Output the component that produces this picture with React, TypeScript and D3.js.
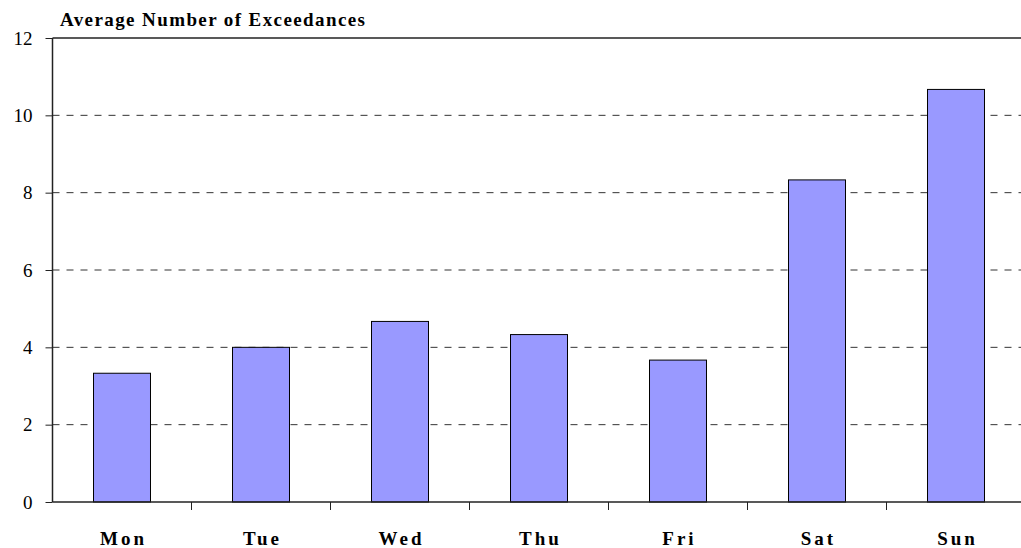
import React, { useEffect, useRef } from "react";
import * as d3 from "d3";

const days = ["Mon", "Tue", "Wed", "Thu", "Fri", "Sat", "Sun"];
const exceedances = [3.33, 4.0, 4.67, 4.33, 3.67, 8.33, 10.67];
const yTicks = [0, 2, 4, 6, 8, 10, 12];

export default function App() {
  const ref = useRef<SVGSVGElement>(null);

  useEffect(() => {
    const height = 548;
    const margin = { top: 38, left: 52.5, bottom: 46 };
    const plotRight = 52.5 + 7 * 139;

    const svg = d3.select(ref.current);
    svg.selectAll("*").remove();

    const x = d3.scaleBand().domain(days).range([margin.left, plotRight]).paddingInner(0.59).paddingOuter(0.295);
    const xTicks = d3.scaleBand().domain(days).range([margin.left, plotRight]);
    const y = d3.scaleLinear().domain([0, 12]).range([height - margin.bottom, margin.top]);

    // grid
    svg.append("g").selectAll("line").data(yTicks.filter(d => d > 0 && d < 12)).join("line")
      .attr("x1", margin.left).attr("x2", plotRight)
      .attr("y1", d => y(d)).attr("y2", d => y(d))
      .attr("stroke", "#333").attr("stroke-dasharray", "7,7");

    svg.append("line")
      .attr("x1", margin.left).attr("x2", plotRight)
      .attr("y1", y(12)).attr("y2", y(12))
      .attr("stroke", "#222").attr("stroke-width", 1.5);

    // bars
    svg.append("g").selectAll("rect").data(exceedances).join("rect")
      .attr("x", (d, i) => x(days[i])!)
      .attr("width", x.bandwidth())
      .attr("y", d => y(d))
      .attr("height", d => y(0) - y(d))
      .attr("fill", "#9999ff").attr("stroke", "#000").attr("stroke-width", 1);

    // y axis
    const yAxis = d3.axisLeft(y).tickValues(yTicks).tickSize(7).tickPadding(13).tickFormat(d3.format("d"));
    const yg = svg.append("g").attr("transform", `translate(${margin.left},0)`).call(yAxis)
      .attr("font-family", "Liberation Serif, serif").attr("font-size", 19);
    yg.select(".domain").attr("d", `M0,${y(0)}V${y(12)}`).attr("stroke", "#222").attr("stroke-width", 1.5);
    yg.selectAll(".tick line").attr("stroke", "#222");
    yg.selectAll("text").attr("fill", "#000");

    // x axis
    const xg = svg.append("g").attr("transform", `translate(0,${y(0)})`);
    xg.append("line").attr("x1", margin.left).attr("x2", plotRight).attr("stroke", "#222").attr("stroke-width", 1.5);
    xg.selectAll(".xt").data(days.slice(1)).join("line").attr("class", "xt")
      .attr("x1", d => xTicks(d)!).attr("x2", d => xTicks(d)!)
      .attr("y1", 0).attr("y2", 8).attr("stroke", "#222");
    xg.selectAll(".xl").data(days).join("text").attr("class", "xl")
      .attr("x", d => xTicks(d)! + xTicks.bandwidth() / 2 + 1.5)
      .attr("y", 43)
      .attr("text-anchor", "middle")
      .attr("font-family", "Liberation Serif, serif").attr("font-weight", "bold")
      .attr("font-size", 19).attr("letter-spacing", 3)
      .text(d => d);

    svg.append("text")
      .attr("x", 60).attr("y", 26)
      .attr("font-family", "Liberation Serif, serif").attr("font-weight", "bold")
      .attr("font-size", 19).attr("letter-spacing", 1.4)
      .text("Average Number of Exceedances");
  }, []);

  return (
    <svg ref={ref} width={1021} height={548} style={{ position: "absolute", left: 0, top: 0, background: "#fff" }} />
  );
}
